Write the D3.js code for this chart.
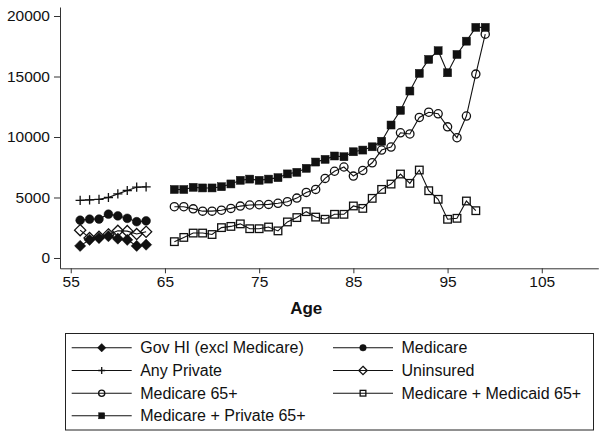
<!DOCTYPE html>
<html><head><meta charset="utf-8">
<script src="https://cdn.jsdelivr.net/npm/d3@7"></script>
<style>body{margin:0;background:#fff}svg{display:block;font-family:"Liberation Sans",Arial,Helvetica,sans-serif}</style>
</head><body><svg id="c" width="606" height="438"></svg>
<script>
// ---- data ----
const agesA = [56, 57, 58, 59, 60, 61, 62, 63];
const govHI = [1000, 1500, 1650, 1800, 1600, 1500, 1000, 1100];
const medicare = [3120, 3210, 3220, 3620, 3480, 3280, 3000, 3070];
const anyPrivate = [4770, 4800, 4850, 5000, 5300, 5580, 5850, 5880];
const uninsured = [2300, 1650, 1750, 1950, 2250, 2220, 1980, 2170];

const agesB = [66, 67, 68, 69, 70, 71, 72, 73, 74, 75, 76, 77, 78, 79, 80, 81, 82, 83, 84, 85, 86, 87, 88, 89, 90, 91, 92, 93, 94, 95, 96, 97, 98, 99];
const medicare65 = [4240, 4240, 4060, 3870, 3870, 3950, 4100, 4290, 4380, 4400, 4430, 4520, 4650, 4950, 5420, 5670, 6580, 7170, 7520, 6770, 7240, 7870, 8920, 9170, 10350, 10250, 11620, 12050, 11920, 10840, 9940, 11730, 15200, 18500];
const medicaid65 = [1350, 1700, 2060, 2060, 1940, 2510, 2610, 2820, 2420, 2420, 2560, 2240, 2980, 3340, 3830, 3380, 3200, 3610, 3610, 4300, 4100, 4930, 5670, 6110, 6940, 6170, 7270, 5560, 4850, 3200, 3280, 4710, 3910];
const private65 = [5660, 5660, 5840, 5790, 5790, 5890, 6120, 6420, 6520, 6420, 6520, 6640, 6950, 7080, 7410, 7930, 8150, 8430, 8370, 8780, 8920, 9190, 9650, 10990, 12200, 13800, 15260, 16410, 17130, 15310, 16820, 17920, 19060, 19060];

const xTicks = [55, 65, 75, 85, 95, 105];
const yTicks = [0, 5000, 10000, 15000, 20000];
const xTitle = "Age";

const series = [
  {name: "Gov HI (excl Medicare)", ages: agesA, vals: govHI, m: "diamondF"},
  {name: "Medicare", ages: agesA, vals: medicare, m: "circleF"},
  {name: "Any Private", ages: agesA, vals: anyPrivate, m: "plus"},
  {name: "Uninsured", ages: agesA, vals: uninsured, m: "diamondH"},
  {name: "Medicare 65+", ages: agesB, vals: medicare65, m: "circleH"},
  {name: "Medicare + Medicaid 65+", ages: agesB, vals: medicaid65, m: "squareH"},
  {name: "Medicare + Private 65+", ages: agesB, vals: private65, m: "squareF"}
];

// ---- scales ----
const svg = d3.select("#c");
const x = d3.scaleLinear().domain([53.86, 111.0]).range([60, 598.3]);
const y = d3.scaleLinear().domain([-852, 20745]).range([268.3, 7]);

const ink = "#111";

// axes
const gx = svg.append("g").attr("transform", "translate(0,268.3)")
  .call(d3.axisBottom(x).tickValues(xTicks).tickSize(5).tickSizeOuter(0).tickPadding(3));
const gy = svg.append("g").attr("transform", "translate(60,0)")
  .call(d3.axisLeft(y).tickValues(yTicks).tickFormat(d3.format("d")).tickSize(6).tickSizeOuter(0).tickPadding(4));
[gx, gy].forEach(g => {
  g.select(".domain").attr("stroke", "#333").attr("stroke-width", 1);
  g.selectAll(".tick line").attr("stroke", "#333");
  g.selectAll("text").attr("font-size", 15.5).attr("fill", "#111")
    .attr("font-family", '"Liberation Sans",Arial,Helvetica,sans-serif');
});

svg.append("text").attr("x", x(80)).attr("y", 314).attr("text-anchor", "middle")
  .attr("font-size", 17).attr("font-weight", "bold").attr("fill", "#111").text(xTitle);

// marker drawing
function marker(g, type, cx, cy, s) {
  const sw = 1.3;
  if (type === "diamondF" || type === "diamondH") {
    const r = 5.6 * s;
    g.append("path").attr("d", `M${cx},${cy - r}L${cx + r},${cy}L${cx},${cy + r}L${cx - r},${cy}Z`)
      .attr("fill", type === "diamondF" ? ink : "none").attr("stroke", ink).attr("stroke-width", type === "diamondF" ? 0.5 : sw);
  } else if (type === "circleF" || type === "circleH") {
    const r = (type === "circleF" ? 4.4 : 4.1) * s;
    g.append("circle").attr("cx", cx).attr("cy", cy).attr("r", r)
      .attr("fill", type === "circleF" ? ink : "none").attr("stroke", ink).attr("stroke-width", type === "circleF" ? 0.5 : sw);
  } else if (type === "squareF" || type === "squareH") {
    const h = (type === "squareF" ? 4 : 3.8) * s;
    g.append("rect").attr("x", cx - h).attr("y", cy - h).attr("width", 2 * h).attr("height", 2 * h)
      .attr("fill", type === "squareF" ? ink : "none").attr("stroke", ink).attr("stroke-width", type === "squareF" ? 0.5 : sw);
  } else if (type === "plus") {
    const r = 4.6 * s;
    g.append("path").attr("d", `M${cx - r},${cy}H${cx + r}M${cx},${cy - r}V${cy + r}`)
      .attr("stroke", ink).attr("stroke-width", sw).attr("fill", "none");
  }
}

const line = d3.line().x(d => x(d[0])).y(d => y(d[1]));
const plot = svg.append("g");
series.forEach(sr => {
  const pts = sr.vals.map((v, i) => [sr.ages[i], v]);
  const g = plot.append("g");
  g.append("path").attr("d", line(pts)).attr("fill", "none").attr("stroke", ink).attr("stroke-width", 1.1);
  pts.forEach(p => marker(g, sr.m, x(p[0]), y(p[1]), 1));
});

// legend
const lg = svg.append("g");
lg.append("rect").attr("x", 65.5).attr("y", 333.5).attr("width", 528).attr("height", 96.5)
  .attr("fill", "none").attr("stroke", "#222").attr("stroke-width", 1);
const rowY = [347.7, 370.5, 393.2, 415.8];
const colX = [71.7, 333];
series.forEach((sr, i) => {
  const row = Math.floor(i / 2), col = i % 2;
  const x0 = colX[col], cy = rowY[row];
  lg.append("line").attr("x1", x0).attr("x2", x0 + 60).attr("y1", cy).attr("y2", cy)
    .attr("stroke", ink).attr("stroke-width", 1.1);
  marker(lg, sr.m, x0 + 30, cy, 0.75);
  lg.append("text").attr("x", x0 + 68.5).attr("y", cy + 5.6).attr("font-size", 16).attr("fill", "#111").text(sr.name);
});
</script></body></html>
